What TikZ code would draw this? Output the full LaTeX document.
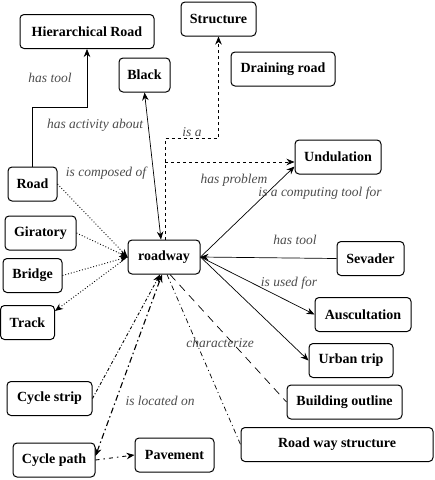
\documentclass[tikz,border=0pt]{standalone}
\usepackage{fontspec}
\setmainfont{Liberation Serif}
\usetikzlibrary{arrows.meta}

\begin{document}
\begin{tikzpicture}[x = 1pt, y = -1pt, % pixel grid, y going down
                > = {Stealth[length = 8pt, width = 6.5pt]}, % arrow head style
                line width = 0.7pt % line style
            ]

            \tikzstyle{box}=[draw = black, line width = 1pt, rounded corners = 4pt,
            minimum height = 34pt, inner sep = 1pt,
            font = \fontsize{14}{16}\selectfont\bfseries]
            \tikzstyle{lbl}=[font = \fontsize{13.5}{15}\selectfont\itshape,
            text = black!70, inner sep = 0pt]

            \useasboundingbox (0,0) rectangle (435,480);

            \node[box, minimum width = 134pt] (hroad) at (87,31.5) {Hierarchical Road};
            \node[box, minimum width = 75pt] (structure) at (218.5,19) {Structure};
            \node[box, minimum width = 51pt] (black) at (144.5,75) {Black};
            \node[box, minimum width = 104pt] (drain) at (283,69) {Draining road};
            \node[box, minimum width = 86pt] (undul) at (338,157) {Undulation};
            \node[box, minimum width = 49pt] (road) at (32.5,184) {Road};
            \node[box, minimum width = 71pt] (girat) at (40.5,233) {Giratory};
            \node[box, minimum width = 72pt] (roadway) at (164,257) {roadway};
            \node[box, minimum width = 67pt] (sevader) at (370.5,258.5) {Sevader};
            \node[box, minimum width = 59pt] (bridge) at (32.5,275.5) {Bridge};
            \node[box, minimum width = 54pt] (track) at (27.5,322.5) {Track};
            \node[box, minimum width = 96pt] (auscult) at (363,314.5) {Auscultation};
            \node[box, minimum width = 84pt] (urban) at (351,360.5) {Urban trip};
            \node[box, minimum width = 85pt] (cstrip) at (49.5,398.5) {Cycle strip};
            \node[box, minimum width = 115pt] (build) at (344.5,402) {Building outline};
            \node[box, minimum width = 192pt] (rwstruct) at (337,444.5) {Road way structure};
            \node[box, minimum width = 82pt] (cpath) at (54,460) {Cycle path};
            \node[box, minimum width = 79pt] (pave) at (174.5,455) {Pavement};

            \coordinate (bend) at (87,107);
            \coordinate (isa) at (165,138);
            \coordinate (prob) at (165,162);

            % solid relations
            \draw[->] (road.north) |- (bend) -- (hroad.south);
            \draw[<->] (black.south) -- ([xshift=-3pt]roadway.north);
            \draw[->] (roadway.east) -- ([yshift=8pt]undul.south west);
            \draw[->] (sevader.west) -- (roadway.east);
            \draw[->] (roadway.east) -- (auscult.west);
            \draw[->] (roadway.east) -- (urban.west);

            % dashed relations
            \draw[->, dashed] ([xshift=1pt]roadway.north) -- (isa) -| (structure.south);
            \draw[->, dashed] (prob) -- (prob -| undul.west);
            \draw[dash pattern = on 8pt off 6pt] ([xshift=6pt]roadway.south) -- (build.west);
            \draw[dash pattern = on 5pt off 3pt on 1pt off 3pt] ([xshift=3pt]roadway.south) -- (rwstruct.west);

            % dotted relations
            \path[->, dotted, line width = 0.9pt] (road.east) edge (roadway.west)
            (girat.east) edge (roadway.west) (bridge.east) edge (roadway.west)
            (roadway.west) edge ([yshift=-6pt]track.north east);

            % dash dot relations
            \draw[->, line width = 0.9pt, dash dot] (cstrip.east) -- ([xshift=-4pt]roadway.south);
            \draw[<->, line width = 1.1pt, dash pattern = on 6pt off 3pt on 1.5pt off 3pt]
            ([yshift=4pt]cpath.east) -- ([xshift=-2pt]roadway.south);
            \draw[->, line width = 0.9pt, dash pattern = on 4pt off 4pt on 1.5pt off 4pt]
            (cpath.east) -- (pave.west);

            \node[lbl] at (50,78) {has tool};
            \node[lbl] at (95,125) {has activity about};
            \node[lbl] at (192,132) {is a};
            \node[lbl] at (106,173) {is composed of};
            \node[lbl] at (234,180) {has problem};
            \node[lbl] at (320,193) {is a computing tool for};
            \node[lbl] at (295,240) {has tool};
            \node[lbl] at (289,283) {is used for};
            \node[lbl] at (220,343) {characterize};
            \node[lbl] at (160,401) {is located on};
\end{tikzpicture}
\end{document}
